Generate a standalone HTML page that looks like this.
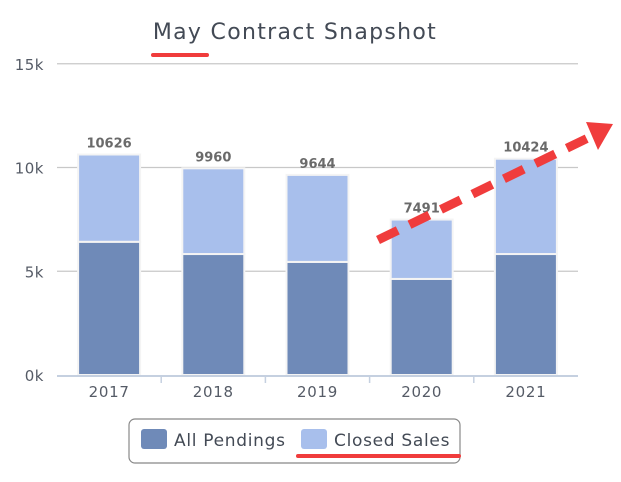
<!DOCTYPE html>
<html><head><meta charset="utf-8"><style>
body{margin:0;background:#fff;width:621px;height:478px;overflow:hidden;font-family:"DejaVu Sans","Liberation Sans",sans-serif}
</style></head><body>
<svg id="chart" width="621" height="478" xmlns="http://www.w3.org/2000/svg">
<text x="295" y="39" text-anchor="middle" font-size="22" letter-spacing="1.3" fill="#434a55" font-family="DejaVu Sans, sans-serif">May Contract Snapshot</text>
<g id="grid"></g><g id="bars"></g><g id="xaxis"></g>
<g>
<rect x="129" y="419" width="331" height="44" rx="6" fill="#fff" stroke="#888" stroke-width="1.2"/>
<g>
<rect x="141" y="429" width="26" height="20" rx="3" fill="#6f8ab8"/>
<text x="174" y="446" font-size="17" letter-spacing="0.7" fill="#434a55">All Pendings</text></g>
<g>
<rect x="301" y="429" width="26" height="20" rx="3" fill="#a8bfec"/>
<text x="334" y="446" font-size="17" letter-spacing="0.7" fill="#434a55">Closed Sales</text></g>
</g>
<g>
<line x1="153" y1="55" x2="207" y2="55" stroke="#f03c3c" stroke-width="4" stroke-linecap="round"/>
<line x1="298" y1="456" x2="459" y2="456" stroke="#f03c3c" stroke-width="4" stroke-linecap="round"/>
<line x1="378" y1="240" x2="590" y2="137" stroke="#f03c3c" stroke-width="9" stroke-dasharray="22,13"/>
<polygon points="586,122 613,124 598,150" fill="#f03c3c"/>
</g>
</svg>
<script>
const categories=["2017","2018","2019","2020","2021"];
const pendings=[6420,5830,5450,4630,5830];
const totals=[10626,9960,9644,7491,10424];
const yTicks=[0,5000,10000,15000];
const yTickLabels=["0k","5k","10k","15k"];
const NS="http://www.w3.org/2000/svg";
const x0=57,x1=578,yBase=375,pxPer=207.5/10000;
const y=v=>yBase-v*pxPer;
const cw=(x1-x0)/categories.length;
function mk(tag,attrs,parent,txt){const e=document.createElementNS(NS,tag);for(const k in attrs)e.setAttribute(k,attrs[k]);if(txt!=null)e.textContent=txt;parent.appendChild(e);return e;}
const grid=document.getElementById('grid'),bars=document.getElementById('bars'),xa=document.getElementById('xaxis');
yTicks.forEach((t,i)=>{
 if(i>0){const l=mk('line',{x1:x0,x2:x1,y1:y(t),y2:y(t),stroke:'#c8c8c8','stroke-width':1.3},grid);
 
 }
 const tx=mk('text',{x:44,y:y(t)+6,'text-anchor':'end','font-size':15,'letter-spacing':0.5,fill:'#555b66'},grid,yTickLabels[i]);
 
 
});
const ax=mk('line',{x1:x0,x2:x1,y1:yBase+1,y2:yBase+1,stroke:'#c5d0e0','stroke-width':2},xa);


categories.forEach((c,i)=>{
 const cx=x0+cw*(i+0.5),bw=62,bx=cx-bw/2;
 const r1=mk('rect',{x:bx,y:y(pendings[i]),width:bw,height:y(0)-y(pendings[i]),fill:'#6f8ab8',stroke:'#f4f4f4','stroke-width':2},bars);
 
 
 const r2=mk('rect',{x:bx,y:y(totals[i]),width:bw,height:y(pendings[i])-y(totals[i]),fill:'#a8bfec',stroke:'#f4f4f4','stroke-width':2},bars);
 
 
 const lb=mk('text',{x:cx,y:y(totals[i])-7,'text-anchor':'middle','font-size':13,'font-weight':'bold',fill:'#6a6a6a'},bars,String(totals[i]));
 
 
 const xl=mk('text',{x:cx,y:397,'text-anchor':'middle','font-size':15,'letter-spacing':0.7,fill:'#555b66'},xa,c);
 
 
 if(i>0){const tk=mk('line',{x1:x0+cw*i,x2:x0+cw*i,y1:yBase,y2:yBase+8,stroke:'#c5d0e0','stroke-width':1.5},xa);
 
 }
});
</script>
</body></html>
